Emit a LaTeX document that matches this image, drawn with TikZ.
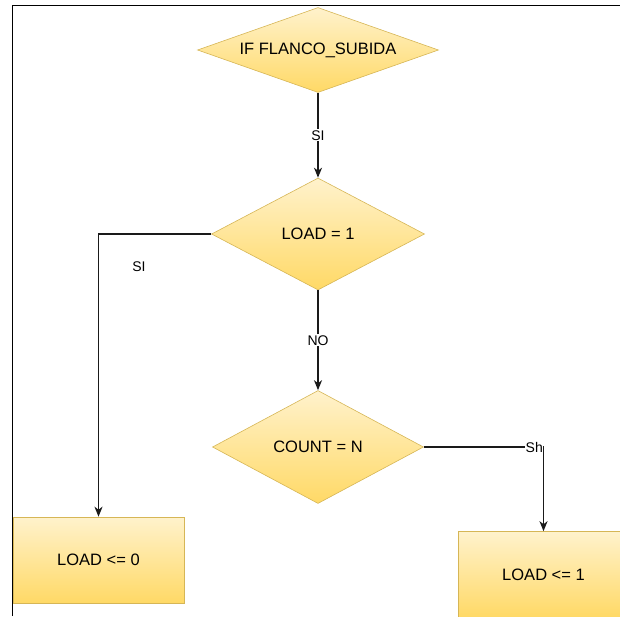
\documentclass[tikz,border=0pt]{standalone}
\usepackage{fontspec}
\setmainfont{Liberation Sans}
\usetikzlibrary{shapes.geometric,arrows.meta}

\definecolor{boxtop}{HTML}{FFF2CC}
\definecolor{boxbot}{HTML}{FFD966}
\definecolor{boxline}{HTML}{D6B656}
\definecolor{linkline}{HTML}{1A1A1A}

\tikzset{
  decision/.style={diamond, draw=boxline, line width=0.6pt, top color=boxtop,
    bottom color=boxbot, inner sep=0pt, font=\fontsize{16.5}{18}\selectfont},
  action/.style={rectangle, draw=boxline, line width=0.6pt, top color=boxtop,
    bottom color=boxbot, minimum width=171pt, minimum height=86pt,
    font=\fontsize{16.5}{18}\selectfont},
  link/.style={draw=linkline, line width=1.3pt,
    -{Stealth[length=10pt,width=8pt,inset=3pt]}},
  tag/.style={fill=white, inner sep=1pt, font=\fontsize{14}{15}\selectfont},
  frameline/.style={draw=black, line width=1.5pt}
}

\begin{document}
\begin{tikzpicture}[x=1pt, y=-1pt]
  \useasboundingbox (0,0) rectangle (620,616);

  % frame edges along the top and the left side
  \coordinate (fL) at (12.5,616);
  \coordinate (fC) at (12.5,5.5);
  \coordinate (fR) at (620,5.5);
  \draw[frameline] (fL) -- (fC) -- (fR);

  % decisions
  \node[decision, aspect=2.84, minimum width=241pt, minimum height=85pt] (flanco) at (318,50) {IF FLANCO\_SUBIDA};
  \node[decision, aspect=1.9, minimum width=213pt, minimum height=112pt] (load) at (318,234) {LOAD = 1};
  \node[decision, aspect=1.87, minimum width=211pt, minimum height=113pt] (count) at (318,447) {COUNT = N};

  % actions
  \node[action] (clr) at (98.5,560) {LOAD <= 0};
  \node[action] (set) at (543.5,574.5) {LOAD <= 1};

  % connectors
  \draw[link] (flanco.south) -- node[tag] {SI} (load.north);
  \draw[link] (load.south) -- node[tag, pos=0.5] {NO} (count.north);

  \coordinate (lcorner) at (clr.north |- load.west);
  \draw[link] (load.west) -- (lcorner) -- (clr.north);
  \node[tag] (lsi) at (139,267) {SI};

  \coordinate (rcorner) at (set.north |- count.east);
  \draw[link] (count.east) -- (rcorner) -- (set.north);
  \node[tag, anchor=east, inner sep=0.5pt] (rsh) at (rcorner) {Sh};
\end{tikzpicture}
\end{document}
